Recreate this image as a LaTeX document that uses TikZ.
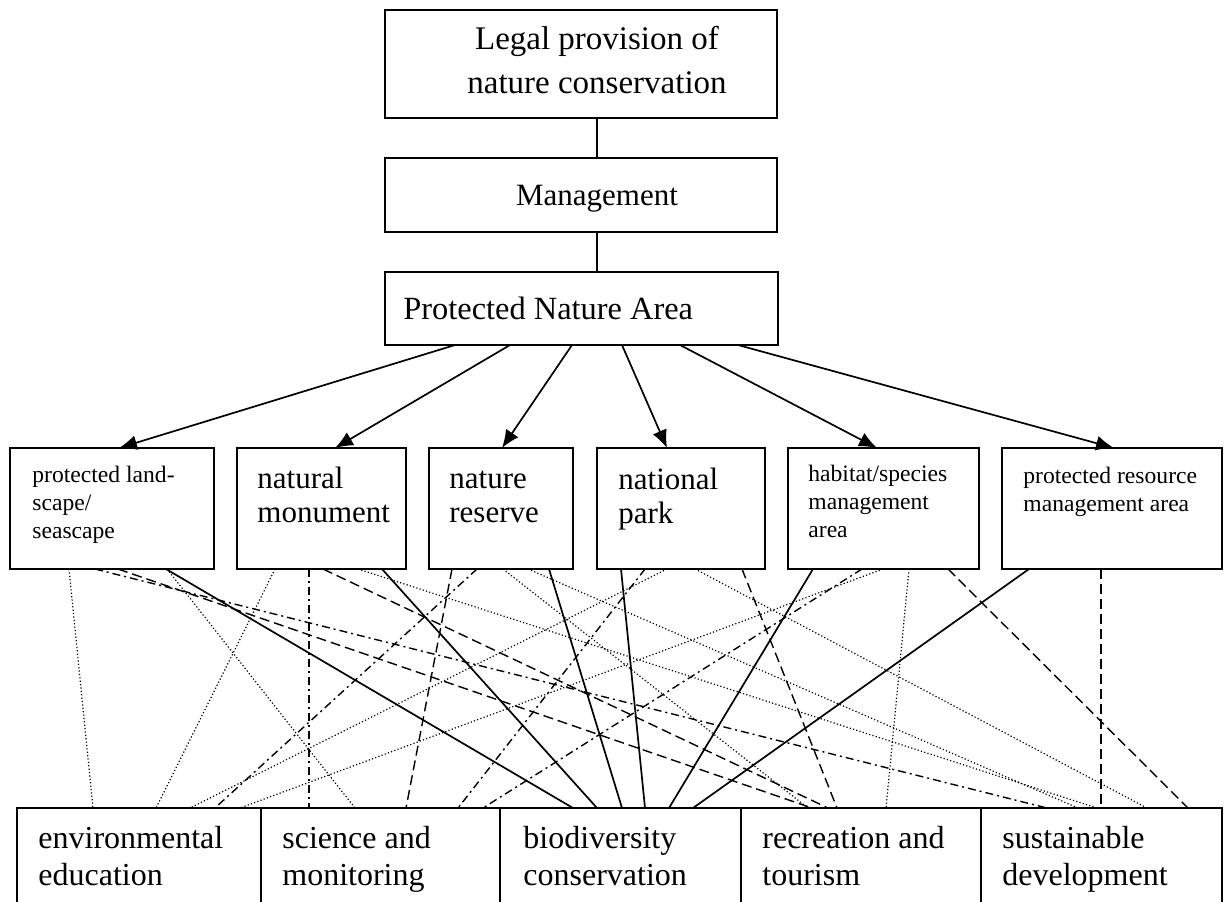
\documentclass[tikz,border=0pt]{standalone}
\usepackage{fontspec}
\setmainfont{Liberation Serif}
\usepackage{tikz}
\usetikzlibrary{calc,arrows.meta}

\tikzset{
	box/.style={draw, line width=0.8pt, inner sep=0pt, outer sep=0pt, anchor=north west},
	lbl/.style={anchor=base west, align=left, inner sep=0pt},
	lblc/.style={anchor=base, align=center, inner sep=0pt},
	bigtxt/.style={font=\fontsize{15.5pt}{17pt}\selectfont},
	smalltxt/.style={font=\fontsize{11.8pt}{14pt}\selectfont},
	bottxt/.style={font=\fontsize{16pt}{18.5pt}\selectfont},
	arr/.style={line width=0.85pt, -{Latex[length=9pt,width=7.5pt]}},
	solidl/.style={line width=0.85pt},
	dashl/.style={line width=0.7pt, dash pattern=on 5pt off 2.5pt},
	dashdotl/.style={line width=0.7pt, dash pattern=on 4pt off 2pt on 1pt off 2pt},
	dotl/.style={line width=0.6pt, dash pattern=on 0.6pt off 1.1pt}
}

\begin{document}
\begin{tikzpicture}[x=0.5pt, y=-0.5pt]
		\useasboundingbox (0,0) rectangle (1224,901);
		\clip (0,0) rectangle (1224,901);
		% top chain
		\node[box, minimum width=196pt, minimum height=54pt] (legal) at (385,10) {};
		\node[box, minimum width=196pt, minimum height=37pt] (mgmt) at (385,158) {};
		\node[box, minimum width=196.5pt, minimum height=36.5pt] (pna) at (385,272) {};
		\node[lblc, font=\fontsize{16.5pt}{22pt}\selectfont] (tlegal) at ($(legal.north west)+(212,83)$) {Legal provision of\\nature conservation};
		\node[lblc, bigtxt] (tmgmt) at ($(mgmt.north west)+(212,47)$) {Management};
		\node[lbl, font=\fontsize{16.2pt}{18pt}\selectfont] (tpna) at ($(pna.north west)+(18,47)$) {Protected Nature Area};
		\draw[solidl] (tmgmt |- legal.south) -- (tmgmt |- mgmt.north);
		\draw[solidl] (tmgmt |- mgmt.south) -- (tmgmt |- pna.north);

		% categories
		\node[box, minimum width=102pt, minimum height=60.5pt] (cat1) at (10,448) {};
		\node[box, minimum width=84.5pt, minimum height=60.5pt] (cat2) at (237,448) {};
		\node[box, minimum width=72pt, minimum height=60.5pt] (cat3) at (429,448) {};
		\node[box, minimum width=84pt, minimum height=60.5pt] (cat4) at (597,448) {};
		\node[box, minimum width=95.5pt, minimum height=60.5pt] (cat5) at (788,448) {};
		\node[box, minimum width=110pt, minimum height=60.5pt] (cat6) at (1002,448) {};
		\node[lbl, smalltxt] at ($(cat1.north west)+(22,90)$) {protected land-\\scape/\\seascape};
		\node[lbl, bigtxt] at ($(cat2.north west)+(20,74)$) {natural\\monument};
		\node[lbl, bigtxt] at ($(cat3.north west)+(20,74)$) {nature\\reserve};
		\node[lbl, bigtxt] at ($(cat4.north west)+(21,75)$) {national\\park};
		\node[lbl, smalltxt] at ($(cat5.north west)+(20,89)$) {habitat/species\\management\\area};
		\node[lbl, smalltxt] at ($(cat6.north west)+(21,63)$) {protected resource\\management area};

		\draw[arr] ($(pna.south west)+(70,0)$) -- ($(cat1.north west)+(109,0)$);
		\draw[arr] ($(pna.south west)+(125,0)$) -- ($(cat2.north west)+(98,0)$);
		\draw[arr] ($(pna.south west)+(187,0)$) -- ($(cat3.north west)+(73,0)$);
		\draw[arr] ($(pna.south west)+(237,0)$) -- ($(cat4.north west)+(70,0)$);
		\draw[arr] ($(pna.south west)+(295,0)$) -- ($(cat5.north west)+(89,0)$);
		\draw[arr] ($(pna.south west)+(353,0)$) -- ($(cat6.north west)+(112,0)$);

		% functions
		\node[box, minimum width=122pt, minimum height=50pt] (fun1) at (17,808) {};
		\node[box, minimum width=119.5pt, minimum height=50pt] (fun2) at (261,808) {};
		\node[box, minimum width=120.5pt, minimum height=50pt] (fun3) at (500,808) {};
		\node[box, minimum width=120pt, minimum height=50pt] (fun4) at (741,808) {};
		\node[box, minimum width=120.5pt, minimum height=50pt] (fun5) at (981,808) {};
		\node[lbl, bottxt] at ($(fun1.north west)+(21,77)$) {environmental\\education};
		\node[lbl, bottxt] at ($(fun2.north west)+(21,77)$) {science and\\monitoring};
		\node[lbl, bottxt] at ($(fun3.north west)+(23,77)$) {biodiversity\\conservation};
		\node[lbl, bottxt] at ($(fun4.north west)+(21,77)$) {recreation and\\tourism};
		\node[lbl, bottxt] at ($(fun5.north west)+(21,77)$) {sustainable\\development};

		% category -> function
		\foreach \i/\a/\j/\b/\s in {
			1/59/1/76/dotl, 1/85/5/66/dashdotl, 1/108/4/71/dashl, 1/157/2/94/dotl, 1/156/3/73/solidl,
			2/38/1/139/dotl, 2/72/2/48/dashdotl, 2/86/4/87/dashl, 2/121/5/116/dotl, 2/145/3/97/solidl,
			3/23/2/145/dashl, 3/48/1/198/dashdotl, 3/74/4/67/dotl, 3/99/5/97/dotl, 3/120/3/122/solidl,
			4/24/3/145/solidl, 4/48/2/197/dashdotl, 4/70/1/173/dotl, 4/98/5/166/dotl, 4/145/4/96/dashl,
			5/25/3/169/solidl, 5/74/2/222/dashdotl, 5/95/1/223/dotl, 5/121/4/145/dotl, 5/160/5/207/dashl,
			6/27/3/193/solidl, 6/99/5/120/dashl} {
			\draw[\s] ($(cat\i.south west)+(\a,0)$) -- ($(fun\j.north west)+(\b,0)$);
		}
	\end{tikzpicture}
\end{document}
